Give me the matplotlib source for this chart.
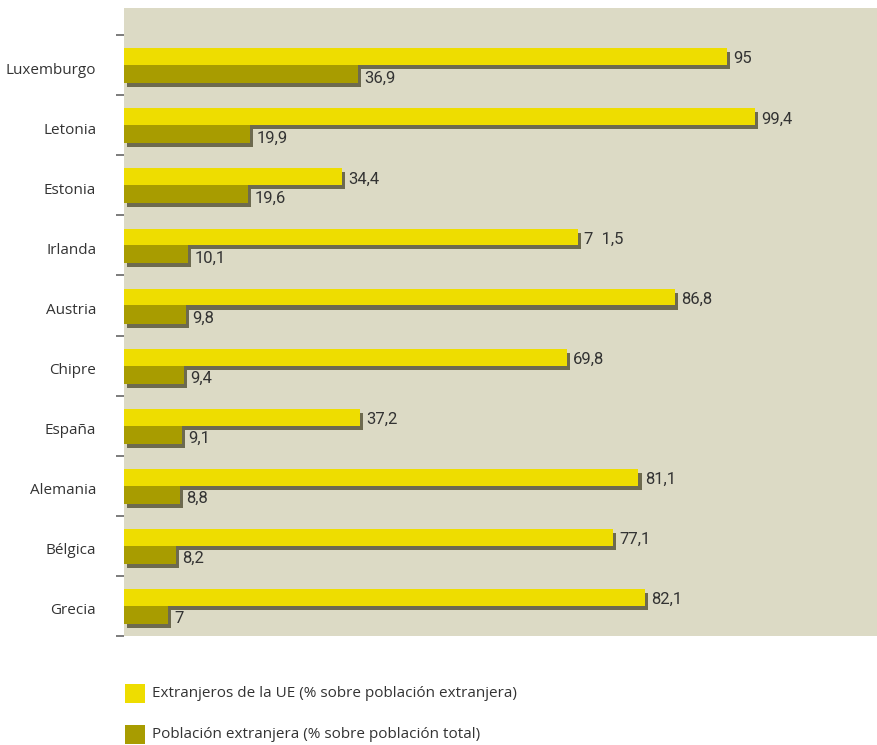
import matplotlib
matplotlib.use("Agg")
import numpy as np
import matplotlib.pyplot as plt
import matplotlib.patheffects as pe
from matplotlib.patches import Rectangle

# data (top to bottom as in the original)
paises = ["Luxemburgo", "Letonia", "Estonia", "Irlanda", "Austria",
          "Chipre", "España", "Alemania", "Bélgica", "Grecia"]
extranjeros_ue = [95, 99.4, 34.4, 71.5, 86.8, 69.8, 37.2, 81.1, 77.1, 82.1]
poblacion_ext = [36.9, 19.9, 19.6, 10.1, 9.8, 9.4, 9.1, 8.8, 8.2, 7]
etiquetas_ue = ["95", "99,4", "34,4", "7  1,5", "86,8", "69,8", "37,2", "81,1", "77,1", "82,1"]
etiquetas_pob = ["36,9", "19,9", "19,6", "10,1", "9,8", "9,4", "9,1", "8,8", "8,2", "7"]
leyenda = ["Extranjeros de la UE (% sobre población extranjera)",
           "Población extranjera (% sobre población total)"]

amarillo = "#eedd00"
oliva = "#a89c00"
sombra = "#6d6a4f"
fondo = "#dcdac5"
texto = "#333333"

plt.rcParams['font.family'] = ['Open Sans', 'DejaVu Sans']

fig = plt.figure(figsize=(8.77, 7.45), dpi=100)
ax = fig.add_axes([124/877., 109/745., 753/877., 628/745.])
ax.set_facecolor(fondo)

n = len(paises)
y = np.arange(n)[::-1]  # Luxemburgo on top
sh = [pe.SimplePatchShadow(offset=(2.2, -2.9), shadow_rgbFace=sombra, alpha=1), pe.Normal()]

b1 = ax.barh(y + 0.14, extranjeros_ue, height=0.28, color=amarillo, linewidth=0)
b2 = ax.barh(y - 0.15, poblacion_ext, height=0.30, color=oliva, linewidth=0)
for p in list(b1) + list(b2):
    p.set_path_effects(sh)

for yi, v, s in zip(y, extranjeros_ue, etiquetas_ue):
    ax.annotate(s, (v, yi + 0.14), xytext=(4.5, -1.5), textcoords="offset points",
                va="center", ha="left", fontsize=12, color=texto, family=["Roboto", "DejaVu Sans"])
for yi, v, s in zip(y, poblacion_ext, etiquetas_pob):
    ax.annotate(s, (v, yi - 0.15), xytext=(4.5, -2.8), textcoords="offset points",
                va="center", ha="left", fontsize=12, color=texto, family=["Roboto", "DejaVu Sans"])

ax.set_xlim(0, 118.7)
ax.set_ylim(-0.5, 9.95)
ax.set_xticks([])
ax.set_yticks(y - 0.05)
ax.set_yticklabels(paises, fontsize=11, color=texto)
ax.set_yticks(np.arange(-0.5, n, 1.0), minor=True)
ax.tick_params(axis="y", which="major", length=0, pad=20)
ax.tick_params(axis="y", which="minor", length=6, width=1.2, color="#666666")
for s in ax.spines.values():
    s.set_visible(False)

# legend below the plot
for i, (lab, col) in enumerate(zip(leyenda, [amarillo, oliva])):
    yy = (745 - 703 - 41*i) / 745.
    fig.patches.append(Rectangle((125/877., yy), 20/877., 19/745., transform=fig.transFigure,
                                 color=col, linewidth=0))
    fig.text(152/877., yy + 9.5/745., lab, fontsize=11, color=texto, va="center", ha="left")

fig.savefig("out.png", dpi=100, facecolor="white")
